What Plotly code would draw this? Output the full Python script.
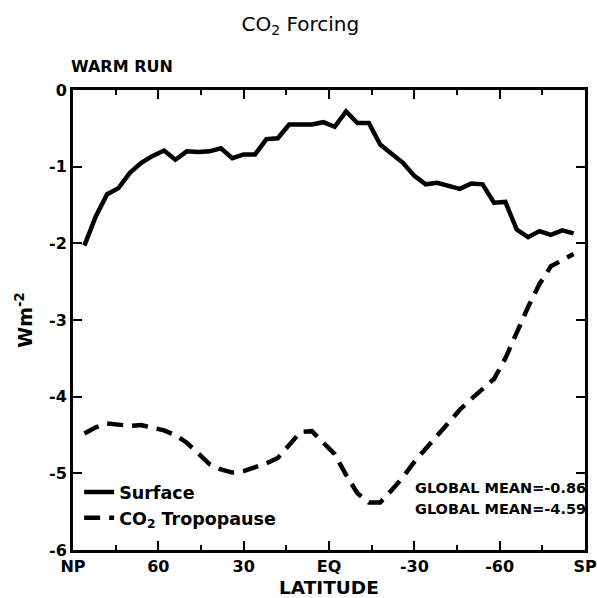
import plotly.graph_objects as go

latitude = [86, 82, 78, 74, 70, 66, 62, 58, 54, 50, 46, 42, 38, 34, 30, 26, 22, 18, 14, 10, 6, 2,
            -2, -6, -10, -14, -18, -22, -26, -30, -34, -38, -42, -46, -50, -54, -58, -62, -66, -70,
            -74, -78, -82, -86]
surface = [-2.03, -1.65, -1.36, -1.28, -1.08, -0.95, -0.86, -0.79, -0.91, -0.80, -0.81, -0.80,
           -0.76, -0.89, -0.84, -0.84, -0.64, -0.63, -0.45, -0.45, -0.45, -0.42,
           -0.48, -0.28, -0.43, -0.43, -0.71, -0.83, -0.95, -1.12, -1.23, -1.21, -1.25, -1.29,
           -1.22, -1.23, -1.47, -1.46, -1.82, -1.92, -1.84, -1.89, -1.83, -1.87]
tropopause = [-4.48, -4.40, -4.35, -4.37, -4.38, -4.37, -4.40, -4.44, -4.50, -4.60, -4.74, -4.88,
              -4.95, -4.99, -4.97, -4.92, -4.87, -4.80, -4.62, -4.46, -4.45, -4.60,
              -4.75, -5.02, -5.26, -5.38, -5.38, -5.22, -5.05, -4.85, -4.68, -4.51, -4.33, -4.17,
              -4.03, -3.90, -3.77, -3.50, -3.16, -2.83, -2.53, -2.30, -2.22, -2.14]
global_means = [-0.86, -4.59]

x_tickvals = [90, 60, 30, 0, -30, -60, -90]
x_ticktext = ["NP", "60", "30", "EQ", "-30", "-60", "SP"]
y_tickvals = [0, -1, -2, -3, -4, -5, -6]
y_ticktext = ["0", "-1", "-2", "-3", "-4", "-5", "-6"]

FONT = "DejaVu Sans"

fig = go.Figure()
fig.add_trace(go.Scatter(x=latitude, y=surface, mode="lines", name="Surface",
                         line=dict(color="black", width=4.5)))
fig.add_trace(go.Scatter(x=latitude, y=tropopause, mode="lines", name="CO<sub>2</sub> Tropopause",
                         line=dict(color="black", width=4.5, dash="16px,9px")))

fig.update_layout(
    width=597, height=598,
    margin=dict(l=73, r=12, t=90, b=48),
    paper_bgcolor="white", plot_bgcolor="white",
    font=dict(family=FONT, color="black", size=16),
    title=dict(text="CO<sub>2</sub> Forcing", x=0.503, xanchor="center", y=0.96, yanchor="middle",
               font=dict(family=FONT, size=20)),
    showlegend=True,
    legend=dict(x=0.012, xanchor="left", y=0.165, yanchor="top", bgcolor="rgba(0,0,0,0)",
                font=dict(family=FONT, size=17.5, weight="bold"), tracegroupgap=0, itemwidth=30),
)

fig.update_xaxes(
    range=[90, -90], tickvals=x_tickvals, ticktext=x_ticktext, automargin=False,
    ticks="inside", ticklen=9, tickwidth=2, tickcolor="black",
    minor=dict(dtick=15, tick0=0, ticks="inside", ticklen=5, tickwidth=2, tickcolor="black"),
    showline=True, linewidth=3, linecolor="black", mirror="ticks",
    showgrid=False, zeroline=False,
    tickfont=dict(family=FONT, size=16, weight="bold"), ticklabelstandoff=0,
    ticklabeloverflow="allow",
)
fig.update_yaxes(
    range=[-6, 0], tickvals=y_tickvals, ticktext=y_ticktext, automargin=False,
    ticks="inside", ticklen=9, tickwidth=2, tickcolor="black",
    showline=True, linewidth=3, linecolor="black", mirror="ticks",
    showgrid=False, zeroline=False,
    tickfont=dict(family=FONT, size=16, weight="bold"),
    title=dict(text="Wm<sup>-2</sup>", font=dict(family=FONT, size=19, weight="bold"), standoff=12),
)

fig.add_annotation(text="LATITUDE", xref="paper", yref="paper", x=0.5, xanchor="center",
                   y=0, yanchor="middle", yshift=-37, showarrow=False, borderpad=0,
                   font=dict(family=FONT, size=18.5, weight="bold"))

fig.add_annotation(text="WARM RUN", xref="paper", yref="paper", x=-0.007, xanchor="left",
                   y=1.0, yanchor="bottom", yshift=12, showarrow=False,
                   font=dict(family=FONT, size=16, weight="bold"))

for i, v in enumerate(global_means):
    fig.add_annotation(text=f"GLOBAL MEAN={v:.2f}", xref="paper", yref="y", x=1.0, xanchor="right",
                       xshift=3, y=-5.19 - 0.28 * i, yanchor="middle", showarrow=False,
                       font=dict(family=FONT, size=14.5, weight="bold"))

fig.write_html("out.html")
